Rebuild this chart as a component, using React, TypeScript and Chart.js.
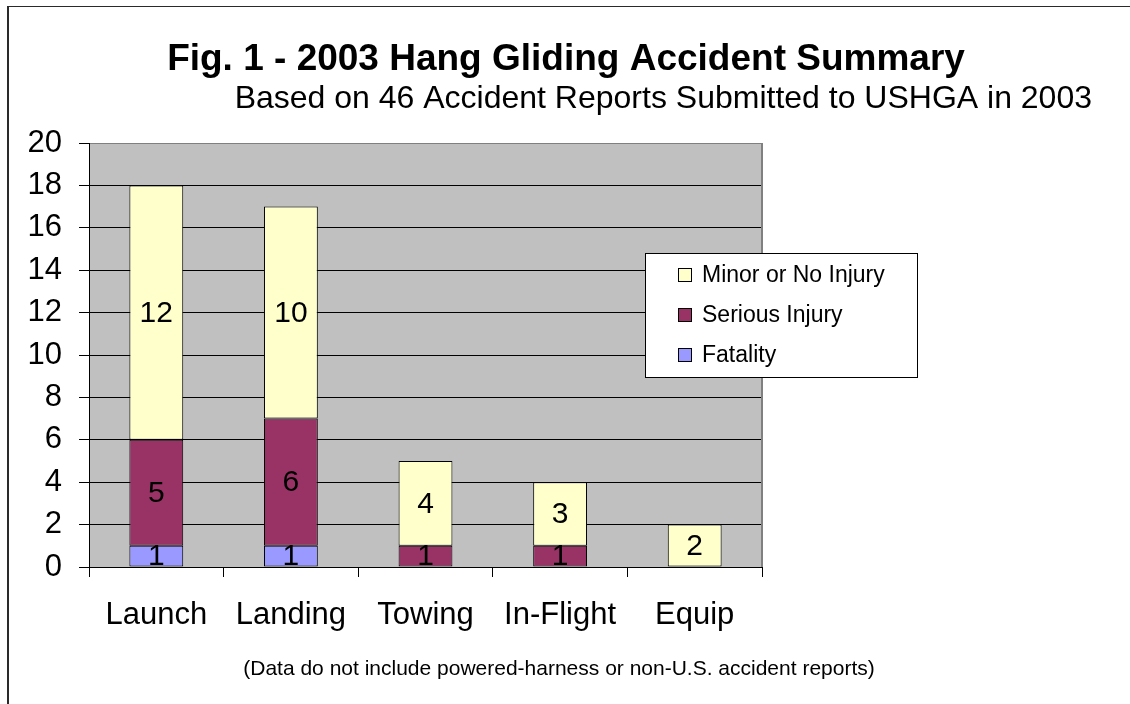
import React, { useEffect, useRef } from "react";
import { Chart, registerables } from "chart.js";

Chart.register(...registerables);

const categories = ["Launch", "Landing", "Towing", "In-Flight", "Equip"];
const fatality = [1, 1, 0, 0, 0];
const serious = [5, 6, 1, 1, 0];
const minor = [12, 10, 4, 3, 2];
const seriesLabels = ["Fatality", "Serious Injury", "Minor or No Injury"];
const seriesColors = ["#9999FF", "#993366", "#FFFFCC"];
const yTicks = [0, 2, 4, 6, 8, 10, 12, 14, 16, 18, 20];

const titleText = "Fig. 1 - 2003 Hang Gliding Accident Summary";
const subtitleText = "Based on 46 Accident Reports Submitted to USHGA in 2003";
const footnoteText = "(Data do not include powered-harness or non-U.S. accident reports)";

const FONT = '"Liberation Sans", Arial, Helvetica, sans-serif';

const W = 1123;
const H = 698;

const framePlugin = {
  id: "framePlugin",
  beforeDraw(chart: any) {
    const { ctx, chartArea } = chart;
    ctx.save();
    ctx.fillStyle = "#ffffff";
    ctx.fillRect(0, 0, chart.width, chart.height);
    ctx.fillStyle = "#C0C0C0";
    ctx.fillRect(chartArea.left, chartArea.top, chartArea.right - chartArea.left, chartArea.bottom - chartArea.top);
    ctx.restore();
  },
  afterDraw(chart: any) {
    const { ctx, chartArea } = chart;
    ctx.save();
    // outer frame
    ctx.fillStyle = "#2a2a2a";
    ctx.fillRect(0, 0, 2, chart.height);
    ctx.fillRect(0, 0, chart.width, 1);
    // plot area right border
    ctx.strokeStyle = "#808080";
    ctx.lineWidth = 2;
    ctx.beginPath();
    ctx.moveTo(chartArea.right, chartArea.top);
    ctx.lineTo(chartArea.right, chartArea.bottom);
    ctx.stroke();
    // titles
    ctx.fillStyle = "#000";
    ctx.textBaseline = "alphabetic";
    ctx.font = `bold 37px ${FONT}`;
    ctx.textAlign = "center";
    ctx.fillText(titleText, 559, 64);
    ctx.font = `32px ${FONT}`;
    ctx.textAlign = "right";
    ctx.fillText(subtitleText, 1085, 102);
    ctx.font = `21px ${FONT}`;
    ctx.textAlign = "center";
    ctx.fillText(footnoteText, 552, 669);

    // legend
    const lx = 638, ly = 247, lw = 272, lh = 124;
    ctx.fillStyle = "#fff";
    ctx.fillRect(lx, ly, lw, lh);
    ctx.strokeStyle = "#000";
    ctx.lineWidth = 1;
    ctx.strokeRect(lx + 0.5, ly + 0.5, lw, lh);
    const ds = chart.data.datasets;
    const order = [2, 1, 0];
    ctx.font = `23px ${FONT}`;
    ctx.textAlign = "left";
    ctx.textBaseline = "middle";
    order.forEach((di, i) => {
      const cy = 269 + i * 40;
      ctx.fillStyle = ds[di].backgroundColor;
      ctx.fillRect(671, cy - 7, 14, 14);
      ctx.strokeStyle = "#000";
      ctx.strokeRect(671.5, cy - 6.5, 13, 13);
      ctx.fillStyle = "#000";
      ctx.fillText(ds[di].label, 695, cy + 1);
    });
    ctx.restore();
  },
  afterDatasetsDraw(chart: any) {
    const { ctx } = chart;
    ctx.save();
    ctx.font = `30px ${FONT}`;
    ctx.fillStyle = "#000";
    ctx.textAlign = "center";
    ctx.textBaseline = "middle";
    chart.data.datasets.forEach((d: any, di: number) => {
      const meta = chart.getDatasetMeta(di);
      meta.data.forEach((el: any, i: number) => {
        const v = d.data[i];
        if (!v) return;
        const y = (el.y + el.base) / 2;
        ctx.fillText(String(v), el.x, y + 1);
      });
    });
    ctx.restore();
  },
};

export default function App() {
  const ref = useRef<HTMLCanvasElement>(null);
  useEffect(() => {
    if (!ref.current) return;
    const seriesData = [fatality, serious, minor];
    const chart = new Chart(ref.current, {
      type: "bar",
      data: {
        labels: categories,
        datasets: seriesData.map((d, i) => ({
          label: seriesLabels[i],
          data: d,
          backgroundColor: seriesColors[i],
          borderColor: "#000",
          borderWidth: 1,
          borderSkipped: false,
          categoryPercentage: 1,
          barPercentage: 0.4,
        })),
      },
      options: {
        responsive: false,
        animation: false,
        devicePixelRatio: 1,
        layout: { padding: { top: 137, right: 368, left: 0, bottom: 0 } },
        plugins: {
          legend: { display: false },
          title: { display: false },
          tooltip: { enabled: false },
        },
        scales: {
          x: {
            stacked: true,
            offset: true,
            grid: {
              display: true,
              offset: true,
              drawOnChartArea: false,
              drawTicks: true,
              tickLength: 10,
              color: "#000",
              lineWidth: 1,
            },
            border: { display: true, color: "#000", width: 1 },
            ticks: {
              color: "#000",
              font: { family: FONT, size: 31 },
              padding: 20,
              maxRotation: 0,
              autoSkip: false,
            },
            afterFit: (s: any) => {
              s.height = 137;
            },
          },
          y: {
            stacked: true,
            min: 0,
            max: 20,
            afterBuildTicks: (s: any) => {
              s.ticks = yTicks.map((v) => ({ value: v }));
            },
            grid: {
              color: (c: any) => (c.tick && c.tick.value === 20 ? "#808080" : "#000"),
              tickColor: "#000",
              tickLength: 10,
              lineWidth: 1,
            },
            border: { display: true, color: "#000", width: 1 },
            ticks: {
              color: "#000",
              font: { family: FONT, size: 31 },
              padding: 17,
            },
            afterFit: (s: any) => {
              s.width = 82;
            },
          },
        },
      },
      plugins: [framePlugin],
    });
    return () => chart.destroy();
  }, []);
  return (
    <div style={{ position: "absolute", left: 7, top: 6, width: W, height: H, overflow: "hidden" }}>
      <canvas ref={ref} width={W} height={H} style={{ width: W, height: H, display: "block" }} />
    </div>
  );
}
